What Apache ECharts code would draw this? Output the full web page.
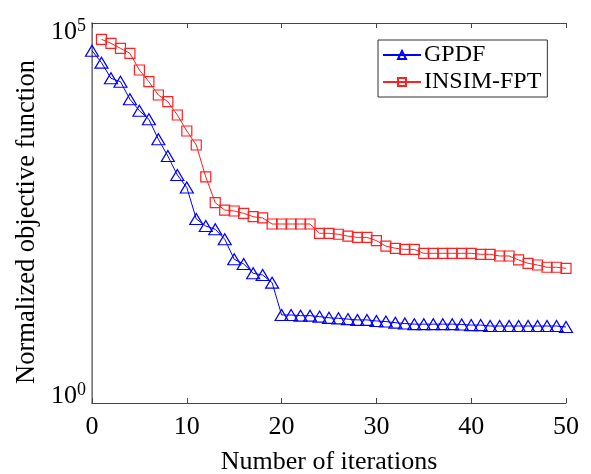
<!DOCTYPE html>
<html><head><meta charset="utf-8">
<script src="https://cdn.jsdelivr.net/npm/echarts@6/dist/echarts.min.js"></script>
<style>html,body{margin:0;padding:0;background:#fff}#c{width:591px;height:474px}</style>
</head><body><div id="c"></div>
<script>
const iterGPDF = Array.from({length: 51}, (_, i) => i);
const iterINSIM = Array.from({length: 50}, (_, i) => i + 1);
const gpdf = [43200, 30060, 18730, 16890, 9910, 7015, 5408, 2950, 1778, 1000,
  685, 264, 213, 193, 143, 77.8, 67.5, 50.9, 48.3, 38.3,
  14.4, 14.4, 14.1, 14.1, 13.7, 13.2, 13.0, 12.7, 12.4, 12.4,
  12.0, 11.8, 11.4, 11.1, 10.9, 10.9, 10.9, 10.9, 10.9, 10.8,
  10.6, 10.6, 10.3, 10.3, 10.3, 10.3, 10.3, 10.3, 10.3, 10.3, 10.0];
const insim = [61000, 54070, 46460, 39930, 24080, 16890, 11290, 9215, 6160, 3793,
  2482, 942, 432, 346, 336, 313, 283, 272, 226.6, 226.6,
  226.6, 226.6, 226.6, 171, 171, 166, 157, 151, 151, 137,
  116, 108.6, 105, 105, 93.3, 93.3, 93.3, 93.3, 93.3, 93.3,
  90.5, 90.5, 86, 86, 76.2, 68.9, 65.4, 61.1, 61.1, 59.2];
const xTicks = [0, 10, 20, 30, 40, 50];
const yTickLabels = {1: '0', 100000: '5'};
const seriesNames = ['GPDF', 'INSIM-FPT'];

const FONT = 'Liberation Serif';
const chart = echarts.init(document.getElementById('c'), null, {renderer: 'canvas'});
chart.setOption({
  animation: false,
  backgroundColor: '#fff',
  grid: {left: 92, top: 23, right: 25, bottom: 71, containLabel: false, outerBoundsMode: 'none'},
  legend: {
    orient: 'vertical', left: 378, top: 40,
    padding: [3, 6, 3, 4], itemGap: 3, itemWidth: 38, itemHeight: 10,
    borderColor: '#333', borderWidth: 1, backgroundColor: '#fff',
    textStyle: {fontFamily: FONT, fontSize: 24, color: '#000', padding: [0, 0, 0, -2]},
    data: seriesNames
  },
  xAxis: [{
    type: 'value', min: 0, max: 50, interval: 10,
    name: 'Number of iterations', nameLocation: 'middle', nameGap: 46,
    nameTextStyle: {fontFamily: FONT, fontSize: 26, color: '#000'},
    axisLine: {lineStyle: {color: '#444', width: 1}},
    axisTick: {inside: true, length: 5, lineStyle: {color: '#444'}},
    axisLabel: {fontFamily: FONT, fontSize: 26, color: '#000', margin: 11,
      formatter: v => xTicks.includes(v) ? String(v) : ''},
    splitLine: {show: false}
  }, {
    type: 'value', min: 0, max: 50, interval: 10, position: 'top',
    axisLine: {lineStyle: {color: '#444', width: 1}},
    axisTick: {inside: true, length: 5, lineStyle: {color: '#444'}},
    axisLabel: {show: false}, splitLine: {show: false}
  }],
  yAxis: [{
    type: 'log', logBase: 10, min: 1, max: 100000,
    name: 'Normalized objective function', nameLocation: 'middle', nameGap: 49,
    nameTextStyle: {fontFamily: FONT, fontSize: 26.5, color: '#000', padding: [0, 18, 0, 0]},
    axisLine: {show: true, lineStyle: {color: '#444', width: 1}},
    axisTick: {show: false},
    splitLine: {show: false},
    axisLabel: {
      margin: 6,
      formatter: v => {
        const e = yTickLabels[v];
        if (e === undefined) return '';
        return v === 1 ? '{b|10}{sb|' + e + '}\n{gap|}' : '{gap|}\n{b|10}{st|' + e + '}';
      },
      rich: {
        b: {fontFamily: FONT, fontSize: 26, color: '#000', verticalAlign: 'bottom'},
        st: {fontFamily: FONT, fontSize: 18, color: '#000', verticalAlign: 'top', padding: [0, 0, 10, 0]},
        sb: {fontFamily: FONT, fontSize: 18, color: '#000', verticalAlign: 'top', padding: [0, 0, 10, 0]},
        gap: {fontSize: 6, height: 16}
      }
    }
  }, {
    type: 'log', logBase: 10, min: 1, max: 100000, position: 'right',
    axisLine: {show: true, lineStyle: {color: '#888', width: 1.5}},
    axisTick: {show: false}, axisLabel: {show: false}, splitLine: {show: false}
  }],
  series: [{
    name: seriesNames[0], type: 'line',
    data: iterGPDF.map((x, i) => [x, gpdf[i]]),
    symbol: 'triangle', symbolSize: [13, 11],
    lineStyle: {color: '#0000ff', width: 1},
    itemStyle: {color: 'rgba(0,0,0,0)', borderColor: '#0000ff', borderWidth: 1.2},
    emphasis: {disabled: true}
  }, {
    name: seriesNames[1], type: 'line',
    data: iterINSIM.map((x, i) => [x, insim[i]]),
    symbol: 'rect', symbolSize: 10,
    lineStyle: {color: '#ff2020', width: 1},
    itemStyle: {color: 'rgba(0,0,0,0)', borderColor: '#ff2020', borderWidth: 1.2},
    emphasis: {disabled: true}
  }]
});
</script></body></html>
